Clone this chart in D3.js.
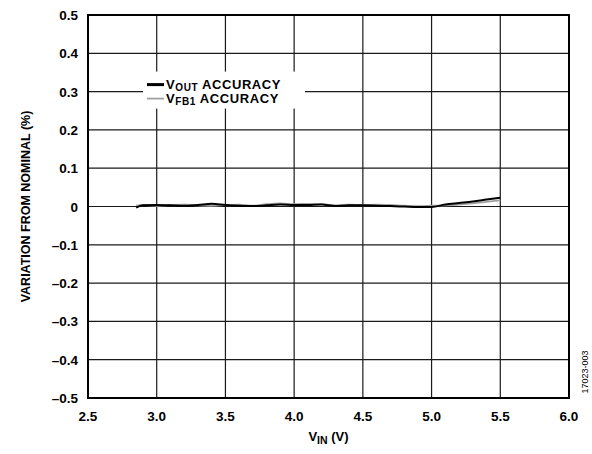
<!DOCTYPE html>
<html>
<head>
<meta charset="utf-8">
<script src="https://cdn.jsdelivr.net/npm/d3@7"></script>
<style>
  body { margin: 0; background: #fff; }
  svg text { font-family: "Liberation Sans", Arial, sans-serif; }
</style>
</head>
<body>
<svg id="chart" width="592" height="454"></svg>
<script>
// input voltage (V)
const vin = [2.85, 2.9, 3.0, 3.1, 3.2, 3.3, 3.4, 3.5, 3.6, 3.7, 3.8, 3.9, 4.0, 4.1, 4.2,
  4.3, 4.4, 4.5, 4.6, 4.7, 4.8, 4.9, 5.0, 5.1, 5.2, 5.3, 5.4, 5.5];
// variation from nominal (%)
const vout = [-0.003, 0.003, 0.004, 0.003, 0.002, 0.004, 0.007, 0.004, 0.002, 0.001, 0.003, 0.005, 0.004, 0.004, 0.005,
  0.001, 0.003, 0.003, 0.002, 0.001, 0.000, -0.001, -0.001, 0.005, 0.009, 0.013, 0.018, 0.023];
const vfb1 = [0.002, 0.004, 0.002, 0.004, 0.005, 0.003, 0.002, 0.004, 0.005, 0.002, 0.006, 0.008, 0.006, 0.007, 0.006,
  0.003, 0.005, 0.004, 0.005, 0.004, 0.002, 0.001, 0.002, 0.003, 0.005, 0.008, 0.012, 0.016];
const xTicks = [2.5, 3.0, 3.5, 4.0, 4.5, 5.0, 5.5, 6.0];
const yTicks = [-0.5, -0.4, -0.3, -0.2, -0.1, 0, 0.1, 0.2, 0.3, 0.4, 0.5];

const margin = {top: 15, right: 23, bottom: 56, left: 88},
    width = 592 - margin.left - margin.right,
    height = 454 - margin.top - margin.bottom;

const svg = d3.select("#chart");
const g = svg.append("g")
    .attr("transform", "translate(" + margin.left + "," + margin.top + ")");

const x = d3.scaleLinear().domain([2.5, 6.0]).range([0, width]);
const y = d3.scaleLinear().domain([-0.5, 0.5]).range([height, 0]);

// grid
g.append("g").selectAll("line").data(xTicks).enter().append("line")
    .attr("x1", d => x(d)).attr("x2", d => x(d))
    .attr("y1", 0).attr("y2", height)
    .attr("stroke", "#1a1a1a").attr("stroke-width", 1.2);
g.append("g").selectAll("line").data(yTicks).enter().append("line")
    .attr("x1", 0).attr("x2", width)
    .attr("y1", d => y(d)).attr("y2", d => y(d))
    .attr("stroke", "#1a1a1a").attr("stroke-width", 1.2);

// tick labels
const fmtY = d => d === 0 ? "0" : (d < 0 ? "\u2013" + Math.abs(d).toFixed(1) : d.toFixed(1));
g.append("g").selectAll("text").data(yTicks).enter().append("text")
    .attr("x", -10).attr("y", d => y(d) + 5)
    .attr("text-anchor", "end")
    .style("font-size", "13.5px").style("font-weight", "bold")
    .text(fmtY);
g.append("g").selectAll("text").data(xTicks).enter().append("text")
    .attr("x", d => x(d)).attr("y", height + 23)
    .attr("text-anchor", "middle")
    .style("font-size", "13.5px").style("font-weight", "bold")
    .text(d => d.toFixed(1));

// axis titles
g.append("text")
    .attr("transform", "translate(" + (-58) + "," + (height / 2) + ") rotate(-90)")
    .attr("text-anchor", "middle")
    .style("font-size", "12.5px").style("font-weight", "bold")
    .text("VARIATION FROM NOMINAL (%)");
const xt = g.append("text")
    .attr("x", width / 2).attr("y", height + 43)
    .attr("text-anchor", "middle")
    .style("font-size", "13px").style("font-weight", "bold");
xt.append("tspan").text("V");
xt.append("tspan").attr("dy", 3).style("font-size", "10.5px").text("IN");
xt.append("tspan").attr("dy", -3).text(" (V)");

// legend box (covers grid)
const lg = g.append("g").attr("transform", "translate(" + (x(2.5) + 55) + "," + (y(0.3) - 20) + ")");
lg.append("rect").attr("x", 0).attr("y", 0).attr("width", 162).attr("height", 37).attr("fill", "#fff");
const legend = [
  {name: "OUT", color: "#000", w: 3},
  {name: "FB1", color: "#a0a0a0", w: 1.8}
];
legend.forEach((d, i) => {
  const yy = 13 + i * 14;
  lg.append("line").attr("x1", 4).attr("x2", 21).attr("y1", yy).attr("y2", yy)
      .attr("stroke", d.color).attr("stroke-width", d.w);
  const t = lg.append("text").attr("x", 23).attr("y", yy + 4)
      .style("font-size", "13px").style("font-weight", "bold")
      .style("letter-spacing", "0.6px");
  t.append("tspan").text("V");
  t.append("tspan").attr("dy", 2).style("font-size", "10px").text(d.name);
  t.append("tspan").attr("dy", -2).text(" ACCURACY");
});

// data lines
const line = d3.line().x((d, i) => x(vin[i])).y(d => y(d)).curve(d3.curveMonotoneX);
g.append("path").datum(vfb1).attr("d", line)
    .attr("fill", "none").attr("stroke", "#a0a0a0").attr("stroke-width", 1.8);
g.append("path").datum(vout).attr("d", line)
    .attr("fill", "none").attr("stroke", "#000").attr("stroke-width", 2);

// frame
g.append("rect").attr("width", width).attr("height", height)
    .attr("fill", "none").attr("stroke", "#000").attr("stroke-width", 2);

// figure number
svg.append("text")
    .attr("transform", "translate(588,372) rotate(-90)")
    .attr("text-anchor", "middle")
    .style("font-size", "9px")
    .text("17023-003");
</script>
</body>
</html>
